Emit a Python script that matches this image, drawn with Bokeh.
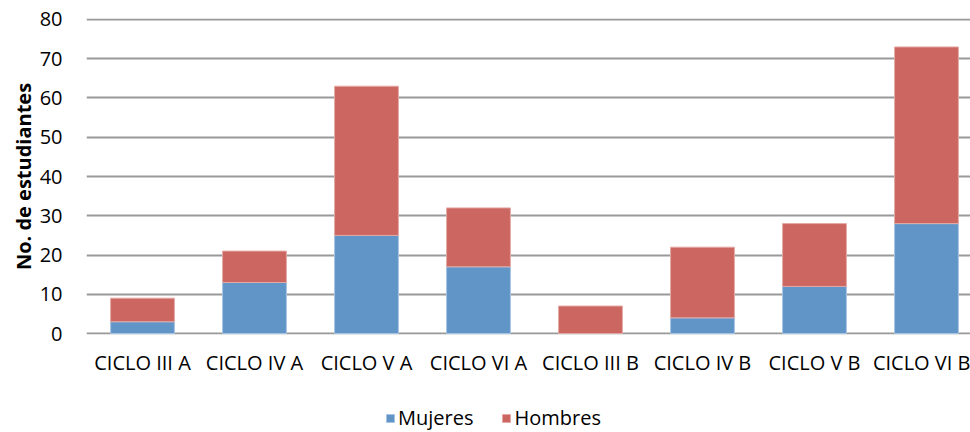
from bokeh.plotting import figure
from bokeh.layouts import column
from bokeh.models import ColumnDataSource, FixedTicker, Legend, LegendItem, Range1d
from bokeh.embed import file_html
from bokeh.resources import INLINE

categories = ["CICLO III A", "CICLO IV A", "CICLO V A", "CICLO VI A",
              "CICLO III B", "CICLO IV B", "CICLO V B", "CICLO VI B"]
mujeres = [3, 13, 25, 17, 0, 4, 12, 28]
hombres = [6, 8, 38, 15, 7, 18, 16, 45]
y_ticks = [0, 10, 20, 30, 40, 50, 60, 70, 80]
series = ["Mujeres", "Hombres"]
colors = ["#6195C8", "#CB6660"]
edges = ["#A6C4E3", "#E4A9A5"]

FONT = "Open Sans"
xpos = list(range(len(categories)))
src = ColumnDataSource(dict(x=xpos, Mujeres=mujeres, Hombres=hombres))

p = figure(width=970, height=400, output_backend="svg", toolbar_location=None,
           x_range=Range1d(-0.5, 7.393), y_range=Range1d(-0.25, 80.25),
           min_border_left=86, min_border_right=0, min_border_top=18, min_border_bottom=66)
p.outline_line_color = None
p.background_fill_color = "white"
p.border_fill_color = "white"

rs = p.vbar_stack(series, x="x", width=0.57, source=src,
                  color=colors, line_color=edges, line_width=1)

p.xgrid.grid_line_color = None
p.ygrid.grid_line_color = "#999999"
p.ygrid.grid_line_width = 2
p.ygrid.ticker = FixedTicker(ticks=y_ticks)

p.yaxis.ticker = FixedTicker(ticks=y_ticks)
p.yaxis.axis_line_color = None
p.yaxis.major_tick_line_color = None
p.yaxis.minor_tick_line_color = None
p.yaxis.major_label_standoff = 18
p.yaxis.major_label_text_font = FONT
p.yaxis.major_label_text_font_size = "20px"
p.yaxis.major_label_text_color = "black"
p.yaxis.axis_label = "No. de estudiantes"
p.yaxis.axis_label_text_font = FONT
p.yaxis.axis_label_text_font_size = "20px"
p.yaxis.axis_label_text_font_style = "bold"
p.yaxis.axis_label_text_color = "black"
p.yaxis.axis_label_standoff = 0

p.xaxis.ticker = FixedTicker(ticks=xpos)
p.xaxis.major_label_overrides = {i: c for i, c in enumerate(categories)}
p.xaxis.axis_line_color = None
p.xaxis.major_tick_line_color = None
p.xaxis.minor_tick_line_color = None
p.xaxis.major_label_standoff = 8
p.xaxis.major_label_text_font = FONT
p.xaxis.major_label_text_font_size = "20px"
p.xaxis.major_label_text_color = "black"

# legend strip below the chart (its frame is aligned with the chart frame)
q = figure(width=970, height=32, output_backend="svg", toolbar_location=None,
           x_range=Range1d(0, 1), y_range=Range1d(0, 1),
           x_axis_location=None, y_axis_location=None, min_border=0)
q.outline_line_color = None
q.xgrid.visible = False
q.ygrid.visible = False
dummies = [q.vbar(x=[0.5], top=[0], bottom=[0], width=0.0, color=c, line_color=e)
           for c, e in zip(colors, edges)]
legend = Legend(items=[LegendItem(label=s, renderers=[r]) for s, r in zip(series, dummies)],
                orientation="horizontal", location=(299, 1),
                glyph_width=10, glyph_height=10, label_height=20,
                label_standoff=3, spacing=28, padding=0, margin=0,
                border_line_alpha=0, background_fill_alpha=0,
                label_text_font=FONT, label_text_font_size="20px",
                label_text_color="black")
q.add_layout(legend, "center")

layout = column(p, q, spacing=0)
open("out.html", "w").write(file_html(layout, INLINE))
